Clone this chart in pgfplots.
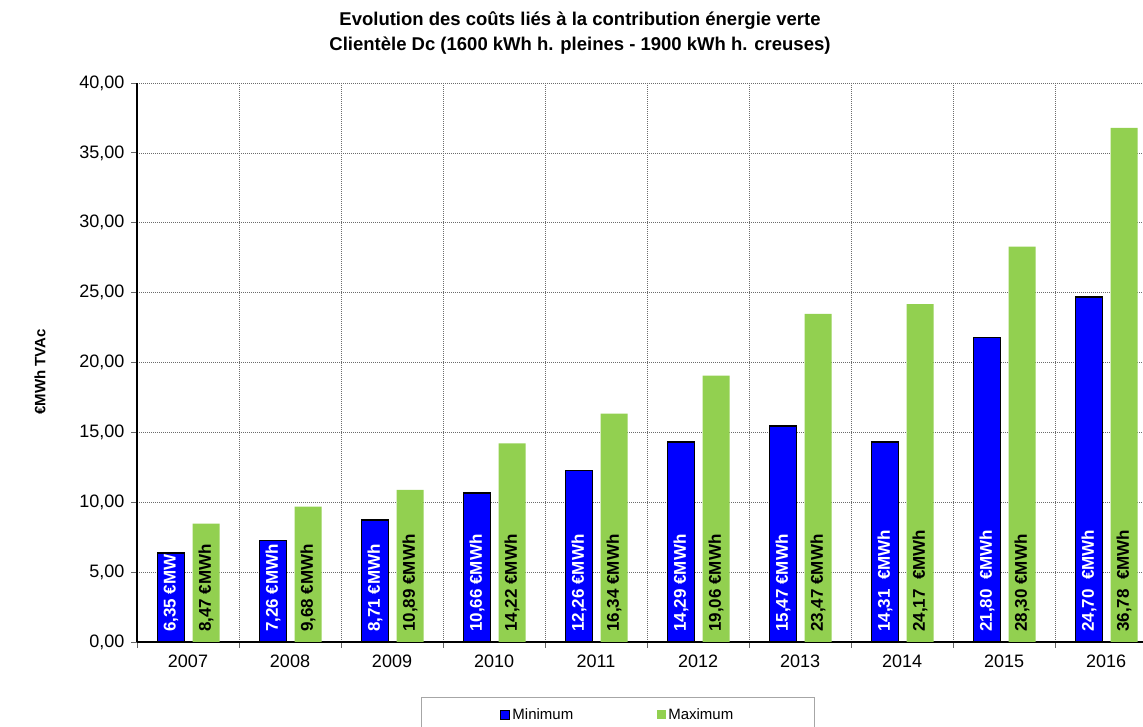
\documentclass[border=0pt]{standalone}
\usepackage{pgfplots}
\pgfplotsset{compat=1.18}
\usepackage{fontspec}
\setmainfont{Liberation Sans}
\definecolor{barblue}{RGB}{0,0,255}
\definecolor{bargreen}{RGB}{146,208,80}
\pgfplotstableread{
x min max
0 6.35 8.47
1 7.26 9.68
2 8.71 10.89
3 10.66 14.22
4 12.26 16.34
5 14.29 19.06
6 15.47 23.47
7 14.31 24.17
8 21.80 28.30
9 24.70 36.78
}\datatable
\begin{document}
\begin{tikzpicture}[x=1pt,y=1pt]
\useasboundingbox (0,0) rectangle (1143,727);
\node[font=\bfseries\fontsize{18.5}{25}\selectfont, align=center] at (580,693.5)
 {Evolution des coûts liés à la contribution énergie verte\\Clientèle Dc (1600 kWh h. pleines - 1900 kWh h. creuses)};
\node[rotate=90, font=\bfseries\fontsize{15}{18}\selectfont] at (40,355) {€MWh TVAc};
\begin{axis}[
 at={(137pt,85pt)}, anchor=south west,
 scale only axis, width=1020pt, height=559pt,
 xmin=-0.5, xmax=9.5, ymin=0, ymax=40,
 axis lines*=left,
 axis line style={black, line width=1.2pt},
 xtick={-0.5,0.5,...,9.5}, xticklabels={},
 extra x ticks={0,1,...,9},
 extra x tick labels={2007,2008,2009,2010,2011,2012,2013,2014,2015,2016},
 extra x tick style={major tick length=0pt, grid=none, xticklabel style={yshift=-9pt}},
 ytick={0,5,...,40},
 yticklabel style={xshift=-3pt, /pgf/number format/fixed, /pgf/number format/fixed zerofill, /pgf/number format/precision=2, /pgf/number format/use comma, /pgf/number format/assume math mode=true},
 xticklabel style={/pgf/number format/assume math mode=true, /pgf/number format/set thousands separator={}},
 tick align=outside, major tick length=6pt,
 tick style={gray!80!black, line width=0.8pt},
 tick label style={font=\fontsize{18}{21}\selectfont},
 grid=major,
 major grid style={gray!85!black, dash pattern=on 1pt off 1pt, line width=0.6pt},
 ybar, bar width=27pt,
 legend columns=2,
 legend style={at={(0.2784,-0.0984)}, anchor=north west, draw=gray!70, line width=1pt,
   font=\fontsize{15}{18}\selectfont, inner xsep=79pt, inner ysep=9pt,
   /tikz/every even column/.append style={column sep=82pt}},
 legend cell align=left,
]
\addplot[fill=barblue, draw=black, line width=1.6pt, bar shift=-17pt,
  legend image code/.code={\draw[fill=barblue, draw=black, line width=1pt] (0pt,-4.5pt) rectangle (9pt,4.5pt);}]
  table[x=x, y=min] {\datatable};
\addlegendentry{Minimum}
\addplot[fill=bargreen, draw=none, bar shift=18pt,
  legend image code/.code={\fill[bargreen] (0pt,-4.5pt) rectangle (9pt,4.5pt);}]
  table[x=x, y=max] {\datatable};
\addlegendentry{Maximum}
\tikzset{bl/.style={xshift=-17pt, yshift=10pt, rotate=90, anchor=west, text=white, inner sep=0pt, font=\bfseries\fontsize{17}{18}\selectfont},
 gl/.style={xshift=18pt, yshift=10pt, rotate=90, anchor=west, text=black, inner sep=0pt, font=\bfseries\fontsize{17}{18}\selectfont}}
\node[bl] at (axis cs:0,0) {6,35 €MW};
\node[gl] at (axis cs:0,0) {8,47 €MWh};
\node[bl] at (axis cs:1,0) {7,26 €MWh};
\node[gl] at (axis cs:1,0) {9,68 €MWh};
\node[bl] at (axis cs:2,0) {8,71 €MWh};
\node[gl] at (axis cs:2,0) {10,89 €MWh};
\node[bl] at (axis cs:3,0) {10,66 €MWh};
\node[gl] at (axis cs:3,0) {14,22 €MWh};
\node[bl] at (axis cs:4,0) {12,26 €MWh};
\node[gl] at (axis cs:4,0) {16,34 €MWh};
\node[bl] at (axis cs:5,0) {14,29 €MWh};
\node[gl] at (axis cs:5,0) {19,06 €MWh};
\node[bl] at (axis cs:6,0) {15,47 €MWh};
\node[gl] at (axis cs:6,0) {23,47 €MWh};
\node[bl] at (axis cs:7,0) {14,31 \ €MWh};
\node[gl] at (axis cs:7,0) {24,17 \ €MWh};
\node[bl] at (axis cs:8,0) {21,80 \ €MWh};
\node[gl] at (axis cs:8,0) {28,30 €MWh};
\node[bl] at (axis cs:9,0) {24,70 \ €MWh};
\node[gl] at (axis cs:9,0) {36,78 \ €MWh};
\end{axis}
\end{tikzpicture}
\end{document}
